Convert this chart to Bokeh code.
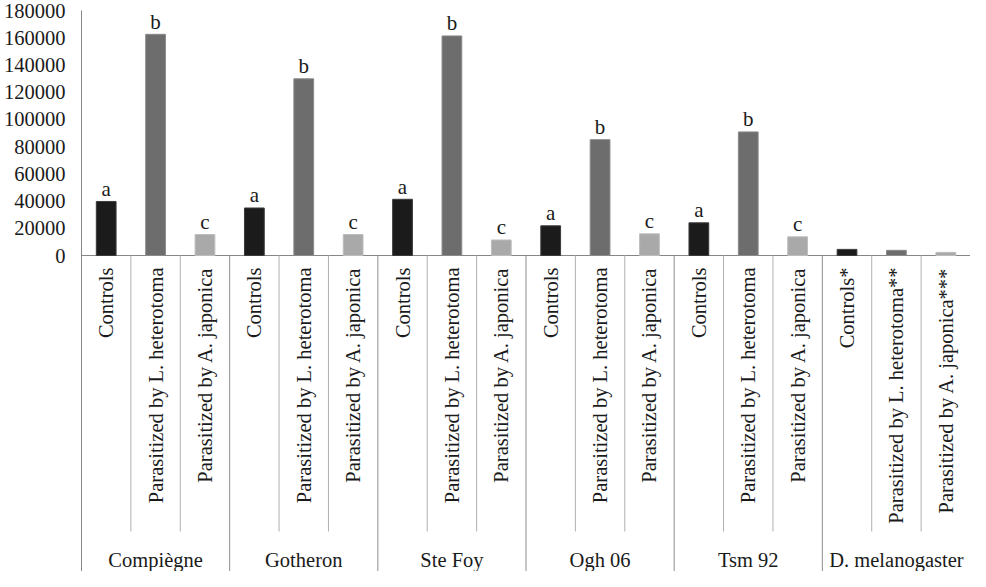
import math
from bokeh.plotting import figure
from bokeh.models import Range1d, FixedTicker, ColumnDataSource, BasicTickFormatter
from bokeh.core.properties import value
from bokeh.embed import file_html
from bokeh.resources import INLINE

# ---------------- data ----------------
populations = ["Compiègne", "Gotheron", "Ste Foy", "Ogh 06", "Tsm 92", "D. melanogaster"]
treatments = ["Controls", "Parasitized by L. heterotoma", "Parasitized by A. japonica"]
treatments_dmel = ["Controls*", "Parasitized by L. heterotoma**", "Parasitized by A. japonica***"]
controls = [39700, 34900, 41300, 21800, 24000, 4500]
l_heterotoma = [162500, 129800, 161300, 85100, 90800, 3800]
a_japonica = [15400, 15400, 11400, 15900, 13700, 2300]
letters_controls = ["a", "a", "a", "a", "a", ""]
letters_lhet = ["b", "b", "b", "b", "b", ""]
letters_ajap = ["c", "c", "c", "c", "c", ""]
y_ticks = [0, 20000, 40000, 60000, 80000, 100000, 120000, 140000, 160000, 180000]

series = [controls, l_heterotoma, a_japonica]
series_letters = [letters_controls, letters_lhet, letters_ajap]
colors = ["#1b1b1b", "#6d6d6d", "#a9a9a9"]
edge = ["#3a3a3a", "#8a8a8a", "#bdbdbd"]

# ---------------- geometry ----------------
W, H = 970, 571
TOP = 10         # pixel row of 180000
ZERO = 255       # pixel row of 0
SUB_BOTTOM = 531 # pixel row where inner separators end
YMAX = 180000
upp = YMAX / (ZERO - TOP)          # data units per pixel
ymin = -(H - ZERO) * upp
sub_y1 = -(SUB_BOTTOM - ZERO) * upp

n_groups = len(populations)
n_cat = n_groups * 3

p = figure(width=W, height=H, x_range=Range1d(0, n_cat), y_range=Range1d(ymin, YMAX),
           output_backend="svg", toolbar_location=None,
           min_border_left=80, min_border_right=0, min_border_top=TOP, min_border_bottom=0)
p.outline_line_color = None
p.xgrid.visible = False
p.ygrid.visible = False
p.xaxis.visible = False
p.background_fill_color = "white"
p.border_fill_color = "white"

ya = p.yaxis[0]
ya.ticker = FixedTicker(ticks=y_ticks)
ya.formatter = BasicTickFormatter(use_scientific=False)
ya.major_tick_out = 0
ya.major_tick_in = 0
ya.minor_tick_out = 0
ya.minor_tick_in = 0
ya.axis_line_color = "#868686"
ya.axis_line_width = 1
ya.major_label_standoff = 16
ya.major_label_text_font = "Liberation Serif"
ya.major_label_text_font_size = "20.5px"
ya.major_label_text_color = "#1a1a1a"

font = value("Liberation Serif")

# zero baseline
p.segment(x0=[0], y0=[0], x1=[n_cat], y1=[0], line_color="#868686", line_width=1)

# separators
gx = [3 * g for g in range(1, n_groups + 1)]
p.segment(x0=gx, y0=[0] * len(gx), x1=gx, y1=[ymin] * len(gx), line_color="#8c8c8c", line_width=1)
sx = [3 * g + k for g in range(n_groups) for k in (1, 2)]
p.segment(x0=sx, y0=[0] * len(sx), x1=sx, y1=[sub_y1] * len(sx), line_color="#b0b0b0", line_width=1)

# bars + letters
for t in range(3):
    xs = [3 * g + t + 0.5 for g in range(n_groups)]
    src = ColumnDataSource(dict(x=xs, top=series[t], lab=series_letters[t]))
    p.vbar(x="x", top="top", bottom=0, width=0.4, source=src,
           fill_color=colors[t], line_color=edge[t], line_width=1)
    p.text(x="x", y="top", text="lab", source=src, y_offset=-12.5,
           text_align="center", text_baseline="alphabetic",
           text_font=font, text_font_size="21px", text_color="#1a1a1a")

# rotated category labels
cat_x = [i + 0.5 for i in range(n_cat)]
cat_lab = []
for g in range(n_groups):
    cat_lab += treatments_dmel if g == n_groups - 1 else treatments
p.text(x=cat_x, y=[0] * n_cat, text=cat_lab, angle=math.pi / 2, y_offset=12,
       text_align="right", text_baseline="middle",
       text_font=font, text_font_size="20.5px", text_color="#1a1a1a")

# group labels
grp_x = [3 * g + 1.5 for g in range(n_groups)]
p.text(x=grp_x, y=[ymin] * n_groups, text=populations, y_offset=-12,
       text_align="center", text_baseline="alphabetic",
       text_font=font, text_font_size="20.5px", text_color="#1a1a1a")

open("out.html", "w").write(file_html(p, INLINE))
